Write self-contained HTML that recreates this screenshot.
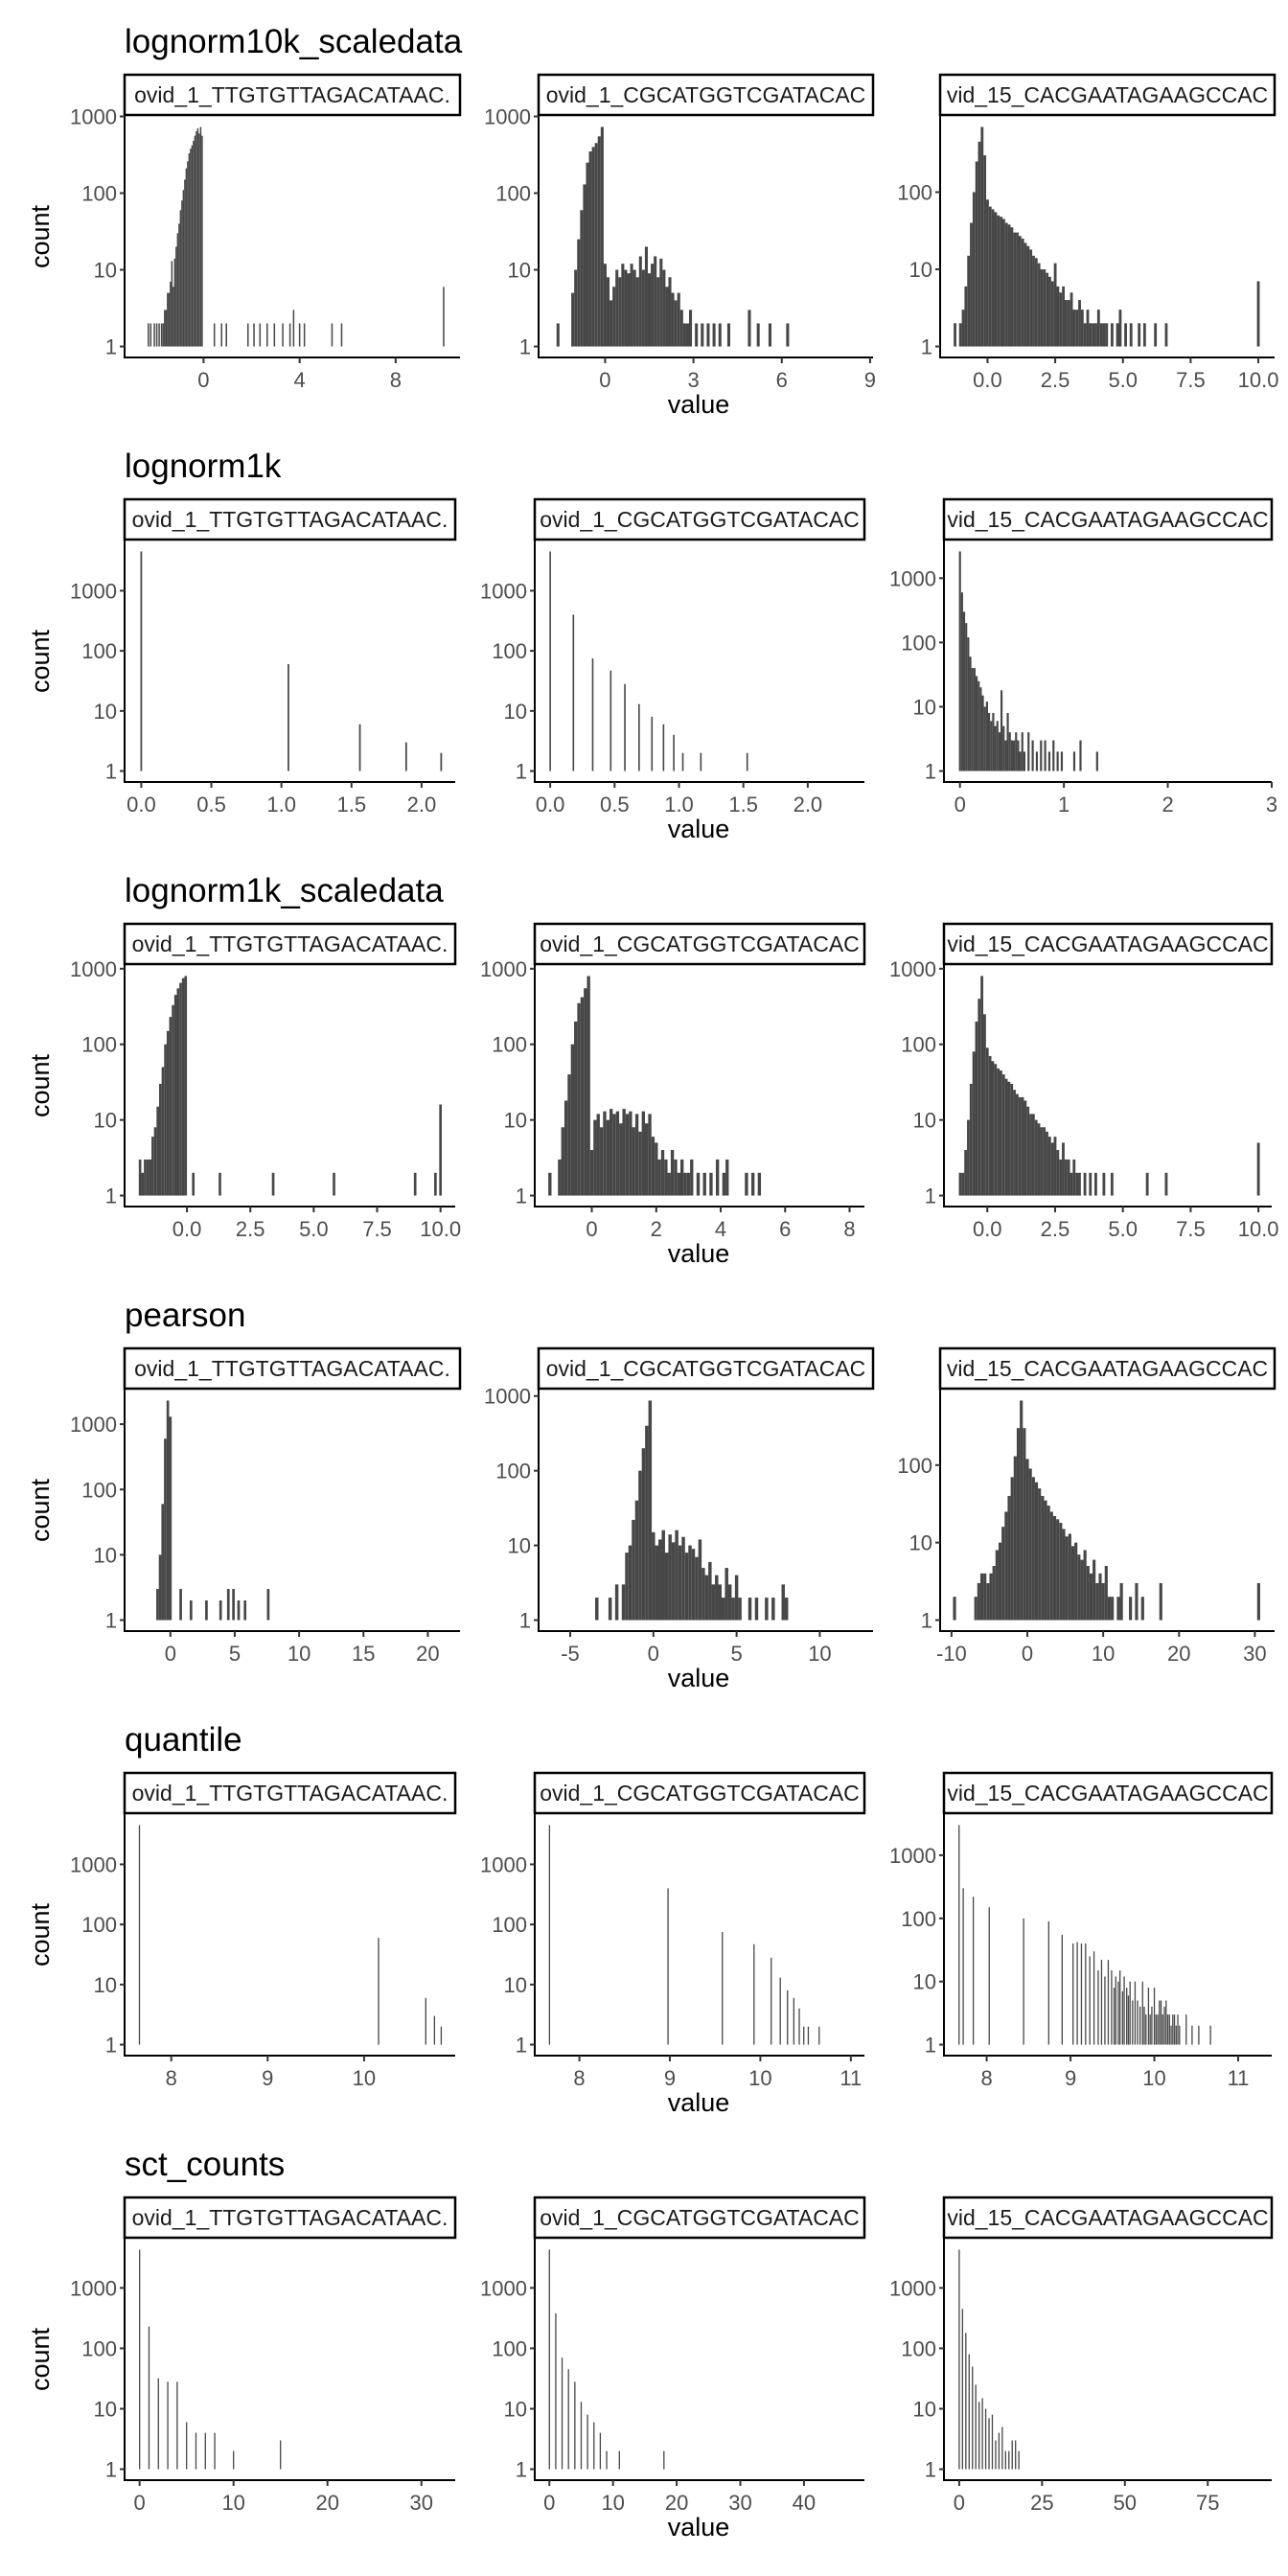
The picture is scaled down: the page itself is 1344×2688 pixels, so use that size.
<!DOCTYPE html>
<html><head><meta charset="utf-8">
<style>
html,body{margin:0;padding:0;background:#fff;}
svg{display:block;}
text{font-family:"Liberation Sans",Arial,sans-serif;}
</style></head>
<body>
<svg id="chart" width="1344" height="2688" viewBox="0 0 1344 2688" xmlns="http://www.w3.org/2000/svg"></svg>
<script>
// ---------- data ----------
const rowTitles = ["lognorm10k_scaledata","lognorm1k","lognorm1k_scaledata","pearson","quantile","sct_counts"];
const stripLabels = ["ovid_1_TTGTGTTAGACATAAC.","ovid_1_CGCATGGTCGATACAC","vid_15_CACGAATAGAAGCCAC"];

// row 1
const r1p1X=[-2.3,-2.2,-2.05,-1.95,-1.85,-1.75,-1.68,-1.62,-1.56,-1.5,-1.44,-1.38,-1.32,-1.26,-1.2,-1.14,-1.08,-1.02,-0.96,-0.9,-0.84,-0.78,-0.72,-0.66,-0.6,-0.54,-0.48,-0.42,-0.36,-0.3,-0.24,-0.18,-0.12,-0.06,0.45,0.75,0.95,1.85,2.1,2.35,2.65,2.95,3.3,3.6,3.75,4.0,4.2,5.35,5.75,10.0];
const r1p1C=[2,2,2,2,2,2,2,3,3,5,5,7,13,6,14,20,30,40,60,80,110,150,210,260,330,380,420,480,560,640,700,600,730,560,2,2,2,2,2,2,2,2,2,2,3,2,2,2,2,6];
const r1p2X=[-1.6,-1.1,-1.0,-0.9,-0.8,-0.7,-0.6,-0.5,-0.4,-0.3,-0.2,-0.1,0.0,0.1,0.2,0.3,0.4,0.5,0.6,0.7,0.8,0.9,1.0,1.1,1.2,1.3,1.4,1.5,1.6,1.7,1.8,1.9,2.0,2.1,2.2,2.3,2.4,2.5,2.6,2.7,2.8,2.9,3.1,3.3,3.5,3.7,3.9,4.2,4.9,5.2,5.6,6.2];
const r1p2C=[2,5,10,25,60,130,250,350,400,450,550,730,12,8,4,6,10,8,12,10,9,12,10,8,15,10,20,9,12,15,8,14,10,6,8,5,4,5,3,2,2,3,2,2,2,2,2,2,3,2,2,2];
const r1p3X=[-1.2,-1.0,-0.9,-0.8,-0.7,-0.6,-0.5,-0.4,-0.3,-0.2,-0.1,0.0,0.1,0.2,0.3,0.4,0.5,0.6,0.7,0.8,0.9,1.0,1.1,1.2,1.3,1.4,1.5,1.6,1.7,1.8,1.9,2.0,2.1,2.2,2.3,2.4,2.5,2.6,2.7,2.8,2.9,3.0,3.1,3.2,3.3,3.4,3.5,3.6,3.7,3.8,3.9,4.0,4.1,4.2,4.3,4.4,4.6,4.8,4.9,5.1,5.3,5.6,5.8,6.2,6.6,10.0];
const r1p3C=[2,2,3,6,15,40,100,250,450,700,300,80,65,60,55,50,48,45,40,38,35,30,30,27,25,22,20,18,15,14,12,10,10,9,8,7,12,6,5,6,4,4,5,3,3,4,3,2,3,2,2,2,3,2,2,2,2,2,3,2,2,2,2,2,2,7];
// row 2
const r2p1X=[0.0,1.05,1.56,1.89,2.14];
const r2p1C=[4500,60,6,3,2];
const r2p2X=[0.0,0.18,0.33,0.47,0.58,0.69,0.79,0.88,0.96,1.03,1.17,1.53];
const r2p2C=[4500,400,75,47,28,13,8,6,4,2,2,2];
const r2p3X=[0.0,0.02,0.04,0.06,0.08,0.1,0.12,0.14,0.16,0.18,0.2,0.22,0.24,0.26,0.28,0.3,0.32,0.34,0.36,0.38,0.4,0.42,0.44,0.46,0.48,0.5,0.52,0.54,0.56,0.58,0.6,0.62,0.66,0.7,0.74,0.78,0.82,0.86,0.9,0.94,0.98,1.1,1.16,1.32];
const r2p3C=[2600,600,300,200,120,60,40,40,30,25,20,15,10,12,8,6,8,5,6,4,18,5,3,8,4,3,3,4,3,2,4,2,4,3,2,3,3,2,3,2,2,2,3,2];
// row 3
const r3p1X=[-1.85,-1.75,-1.65,-1.55,-1.45,-1.35,-1.25,-1.15,-1.05,-0.95,-0.85,-0.75,-0.65,-0.55,-0.45,-0.35,-0.25,-0.15,-0.05,0.25,1.3,3.4,5.8,9.0,9.8,10.0];
const r3p1C=[3,2,3,3,3,6,8,15,30,50,100,150,230,330,450,550,650,750,800,2,2,2,2,2,2,16];
const r3p2X=[-1.3,-1.0,-0.9,-0.8,-0.7,-0.6,-0.5,-0.4,-0.3,-0.2,-0.1,0.0,0.1,0.2,0.3,0.4,0.5,0.6,0.7,0.8,0.9,1.0,1.1,1.2,1.3,1.4,1.5,1.6,1.7,1.8,1.9,2.0,2.1,2.2,2.3,2.4,2.5,2.6,2.7,2.8,2.9,3.0,3.1,3.3,3.5,3.7,3.9,4.1,4.2,4.8,5.0,5.2];
const r3p2C=[2,3,8,18,40,100,200,350,420,550,800,4,10,12,8,13,10,14,12,13,9,14,12,13,8,12,7,13,9,12,6,5,3,4,3,2,4,3,2,3,2,2,3,2,2,2,3,2,3,2,2,2];
const r3p3X=[-1.0,-0.9,-0.8,-0.7,-0.6,-0.5,-0.4,-0.3,-0.2,-0.1,0.0,0.1,0.2,0.3,0.4,0.5,0.6,0.7,0.8,0.9,1.0,1.1,1.2,1.3,1.4,1.5,1.6,1.7,1.8,1.9,2.0,2.1,2.2,2.3,2.4,2.5,2.6,2.7,2.8,2.9,3.0,3.1,3.2,3.3,3.4,3.6,3.8,4.0,4.3,4.6,5.9,6.6,10.0];
const r3p3C=[2,2,4,10,30,80,200,400,800,250,90,70,60,55,48,45,40,35,32,30,25,22,20,20,18,15,12,12,10,9,8,8,7,6,5,6,4,3,5,3,3,2,3,2,2,2,2,2,2,2,2,2,5];
// row 4
const r4p1X=[-1.0,-0.8,-0.6,-0.4,-0.2,0.0,0.8,1.6,2.8,3.9,4.5,4.9,5.3,5.8,7.6];
const r4p1C=[3,10,60,600,2300,1300,3,2,2,2,3,3,2,2,3];
const r4p2X=[-3.4,-2.6,-2.2,-1.8,-1.6,-1.4,-1.2,-1.0,-0.8,-0.6,-0.4,-0.2,0.0,0.2,0.4,0.6,0.8,1.0,1.2,1.4,1.6,1.8,2.0,2.2,2.4,2.6,2.8,3.0,3.2,3.4,3.6,3.8,4.0,4.2,4.4,4.6,4.8,5.0,5.2,5.8,6.2,6.8,7.2,7.8,8.0];
const r4p2C=[2,2,3,3,8,10,22,40,100,200,400,870,15,10,12,16,8,14,11,16,10,13,8,10,9,7,12,5,4,6,3,4,3,2,5,3,2,4,2,2,2,2,2,3,2];
const r4p3X=[-9.6,-6.8,-6.4,-6.0,-5.6,-5.2,-4.8,-4.4,-4.0,-3.6,-3.2,-2.8,-2.4,-2.0,-1.6,-1.2,-0.8,-0.4,0.0,0.4,0.8,1.2,1.6,2.0,2.4,2.8,3.2,3.6,4.0,4.4,4.8,5.2,5.6,6.0,6.4,6.8,7.2,7.6,8.0,8.4,8.8,9.2,9.6,10.0,10.4,10.8,11.2,12.0,12.4,13.6,14.4,15.2,17.6,30.5];
const r4p3C=[2,2,3,4,4,3,4,5,8,10,16,25,40,70,130,300,680,300,120,90,70,60,50,40,35,30,25,22,20,18,15,12,13,9,10,7,6,8,5,4,6,3,4,3,5,2,2,2,3,2,3,2,3,3];
// row 5
const r5p1X=[7.67,10.15,10.64,10.73,10.8];
const r5p1C=[4500,60,6,3,2];
const r5p2X=[7.67,8.98,9.58,9.93,10.12,10.22,10.3,10.37,10.43,10.48,10.53,10.65];
const r5p2C=[4500,400,75,47,28,13,8,6,4,2,2,2];
const r5p3X=[7.67,7.72,7.84,8.03,8.44,8.74,8.9,9.03,9.08,9.13,9.18,9.23,9.28,9.33,9.37,9.41,9.45,9.49,9.52,9.54,9.57,9.59,9.62,9.64,9.67,9.69,9.71,9.74,9.77,9.8,9.83,9.86,9.88,9.9,9.93,9.95,9.97,10.0,10.02,10.04,10.06,10.08,10.1,10.12,10.14,10.16,10.18,10.2,10.22,10.24,10.26,10.28,10.3,10.38,10.45,10.53,10.67];
const r5p3C=[3000,300,220,150,100,90,55,40,42,40,40,25,30,15,22,12,22,15,8,12,10,15,7,12,8,6,10,5,10,5,4,10,4,3,8,3,4,8,3,3,5,5,3,4,5,3,3,2,3,3,2,3,2,3,2,2,2];
// row 6
const r6p1X=[0,1,2,3,4,5,6,7,8,10,15];
const r6p1C=[4300,230,32,28,28,6,4,4,4,2,3];
const r6p2X=[0,1,2,3,4,5,6,7,8,9,11,18];
const r6p2C=[4300,380,70,45,28,13,8,6,4,2,2,2];
const r6p3X=[0,1,2,3,4,5,6,7,8,9,10,11,12,13,14,15,16,17,18];
const r6p3C=[4300,450,180,80,50,25,13,15,10,7,8,3,4,5,2,2,3,3,2];

// tick labels per panel
const ticks=[
 [[0,4,8],[0,3,6,9],[0,2.5,5,7.5,10]],
 [[0,0.5,1,1.5,2],[0,0.5,1,1.5,2],[0,1,2,3]],
 [[0,2.5,5,7.5,10],[0,2,4,6,8],[0,2.5,5,7.5,10]],
 [[0,5,10,15,20],[-5,0,5,10],[-10,0,10,20,30]],
 [[8,9,10],[8,9,10,11],[8,9,10,11]],
 [[0,10,20,30],[0,10,20,30,40],[0,25,50,75]]
];
const tickLabels=[
 [["0","4","8"],["0","3","6","9"],["0.0","2.5","5.0","7.5","10.0"]],
 [["0.0","0.5","1.0","1.5","2.0"],["0.0","0.5","1.0","1.5","2.0"],["0","1","2","3"]],
 [["0.0","2.5","5.0","7.5","10.0"],["0","2","4","6","8"],["0.0","2.5","5.0","7.5","10.0"]],
 [["0","5","10","15","20"],["-5","0","5","10"],["-10","0","10","20","30"]],
 [["8","9","10"],["8","9","10","11"],["8","9","10","11"]],
 [["0","10","20","30"],["0","10","20","30","40"],["0","25","50","75"]]
];
const yTickValues=[1,10,100,1000];
const yTickLabels=["1","10","100","1000"];

// ---------- layout / axes ----------
const xDomains=[
 [[-3.29,10.68],[-2.26,9.1],[-1.75,10.6]],
 [[-0.119,2.24],[-0.12,2.44],[-0.154,3.0]],
 [[-2.46,10.58],[-1.77,8.46],[-1.6,10.49]],
 [[-3.56,22.5],[-6.9,13.2],[-11.5,32.6]],
 [[7.516,10.945],[7.507,11.15],[7.49,11.4]],
 [[-1.6,33.6],[-2.3,49.5],[-4.6,94.3]]
];
const binW=[[0.06,0.1,0.1],[0.012,0.012,0.02],[0.1,0.1,0.1],[0.2,0.2,0.4],[0.012,0.012,0.012],[0.12,0.15,0.25]];
const layoutA=[[130,480],[562,911],[981,1330]];
const layoutB=[[130,475],[558,902],[985,1327]];
const rowLayout=[layoutA,layoutB,layoutB,layoutA,layoutB,layoutB];
const dataX=[[r1p1X,r1p2X,r1p3X],[r2p1X,r2p2X,r2p3X],[r3p1X,r3p2X,r3p3X],[r4p1X,r4p2X,r4p3X],[r5p1X,r5p2X,r5p3X],[r6p1X,r6p2X,r6p3X]];
const dataC=[[r1p1C,r1p2C,r1p3C],[r2p1C,r2p2C,r2p3C],[r3p1C,r3p2C,r3p3C],[r4p1C,r4p2C,r4p3C],[r5p1C,r5p2C,r5p3C],[r6p1C,r6p2C,r6p3C]];

const NS="http://www.w3.org/2000/svg";
const svg=document.getElementById('chart');
function mk(tag,attrs,parent){const e=document.createElementNS(NS,tag);for(const k in attrs)e.setAttribute(k,attrs[k]);(parent||svg).appendChild(e);return e;}

const ROW_H=443;
for(let r=0;r<6;r++){
  const off=r*ROW_H;
  const g=mk('g',{});
  
  
  const t=mk('text',{x:130,y:off+55,'font-size':35,fill:'#000'},g);
  t.textContent=rowTitles[r];
  
  
  const yl=mk('text',{x:0,y:0,'font-size':27,fill:'#000','text-anchor':'middle',transform:'translate(51,'+(off+247)+') rotate(-90)'},g);
  yl.textContent='count';
  
  
  const xl=mk('text',{x:729,y:off+431,'font-size':27,fill:'#000','text-anchor':'middle'},g);
  xl.textContent='value';
  
  

  for(let c=0;c<3;c++){
    const [L,R]=rowLayout[r][c];
    const top=off+121, bot=off+373;
    const xs=dataX[r][c], cs=dataC[r][c];
    const [x0,x1]=xDomains[r][c];
    const M=Math.log10(Math.max(...cs));
    const y0=-0.05*M, y1=1.05*M;
    const sx=v=>L+(v-x0)/(x1-x0)*(R-L);
    const sy=v=>bot-(Math.log10(v)-y0)/(y1-y0)*(bot-top);
    const pg=mk('g',{},g);
    
    
    // strip
    const cid='clip'+r+'_'+c;
    const cp=mk('clipPath',{id:cid},pg);
    mk('rect',{x:L,y:off+77,width:R-L,height:44},cp);
    const sr=mk('rect',{x:L,y:off+78,width:R-L,height:42,fill:'#fff',stroke:'#000','stroke-width':2.5},pg);
    
    
    const st=mk('text',{x:(L+R)/2,y:off+107,'font-size':23,fill:'#1a1a1a','text-anchor':'middle','clip-path':'url(#'+cid+')'},pg);
    st.textContent=stripLabels[c];
    
    
    // bars
    const bw=binW[r][c];
    for(let i=0;i<xs.length;i++){
      const xa=sx(xs[i]-bw/2), xb=sx(xs[i]+bw/2);
      let w=Math.max(xb-xa,1.3);
      const yt=sy(cs[i]), yb=sy(1);
      const b=mk('rect',{x:(xa+xb)/2-w/2,y:yt,width:w,height:Math.max(yb-yt,0),fill:'#474747'},pg);
      
      
    }
    // axes
    const ax=mk('line',{x1:L,y1:top,x2:L,y2:bot+1,stroke:'#000','stroke-width':2},pg);
    
    
    const axx=mk('line',{x1:L-1,y1:bot,x2:R,y2:bot,stroke:'#000','stroke-width':2},pg);
    
    
    for(let i=0;i<yTickValues.length;i++){
      const v=yTickValues[i];const lv=Math.log10(v);
      if(lv<y0||lv>y1)continue;
      const y=sy(v);
      const tk=mk('line',{x1:L-5,y1:y,x2:L,y2:y,stroke:'#333','stroke-width':2},pg);
      
      
      const tl=mk('text',{x:L-8,y:y+8,'font-size':22,fill:'#4d4d4d','text-anchor':'end'},pg);
      tl.textContent=yTickLabels[i];
      
      
    }
    const tv=ticks[r][c], tls=tickLabels[r][c];
    for(let i=0;i<tv.length;i++){
      const x=sx(tv[i]);
      const tk=mk('line',{x1:x,y1:bot,x2:x,y2:bot+6,stroke:'#333','stroke-width':2},pg);
      
      
      const tl=mk('text',{x:x,y:off+404,'font-size':22,fill:'#4d4d4d','text-anchor':'middle'},pg);
      tl.textContent=tls[i];
      
      
    }
  }
}
</script>
</body></html>
